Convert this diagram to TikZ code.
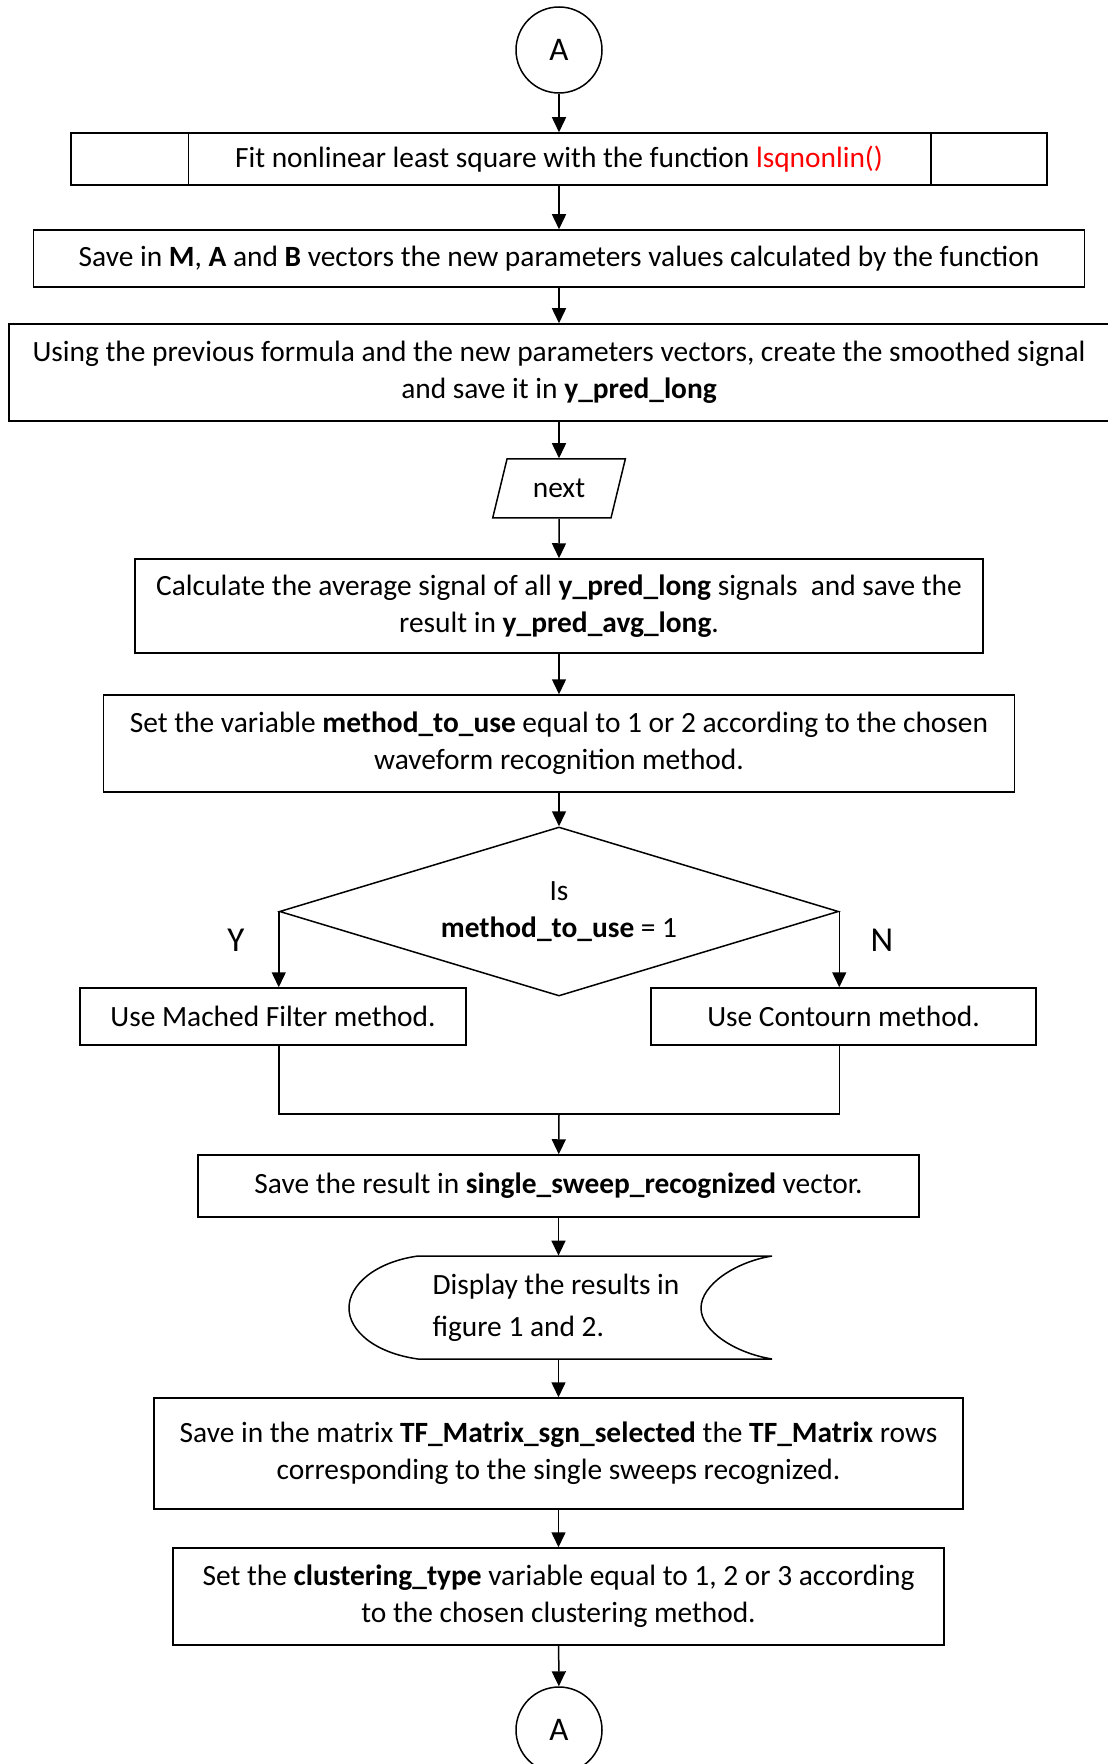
\documentclass[tikz,border=0pt]{standalone}
\usepackage{fontspec}
\setmainfont{Carlito}
\usepackage{xcolor}
\usetikzlibrary{shapes.geometric,arrows.meta}

\tikzset{
  box/.style={draw, line width=0.75pt, inner sep=2pt, align=center},
  arr/.style={-{Triangle[length=7.5pt,width=7pt]}, line width=0.75pt},
  conn/.style={draw, circle, line width=0.75pt, minimum size=43pt, inner sep=0pt, font=\fontsize{16.5}{18}\selectfont}
}

\begin{document}
\begin{tikzpicture}[x=0.5pt, y=-0.5pt, font=\fontsize{14.7}{18.5}\selectfont]
  \useasboundingbox (0,0) rectangle (1107,1764);

  % Connector at the top
  \node[conn] (topA) at (559,50) {A};

  % Process boxes
  \node[box, minimum width=488pt, minimum height=26pt] (fit) at (559,159)
    {Fit nonlinear least square with the function \textcolor{red}{lsqnonlin()}};
  \draw[line width=0.75pt] ([xshift=59pt]fit.north west) -- ([xshift=59pt]fit.south west);
  \draw[line width=0.75pt] ([xshift=-58.5pt]fit.north east) -- ([xshift=-58.5pt]fit.south east);

  \node[box, minimum width=525.5pt, minimum height=28.5pt] (savepar) at (559,258.5)
    {Save in \textbf{M}, \textbf{A} and \textbf{B} vectors the new parameters values calculated by the function};

  \node[box, minimum width=550pt, minimum height=48.5pt] (smooth) at (559,372.5)
    {Using the previous formula and the new parameters vectors, create the smoothed signal\\and save it in \textbf{y\_pred\_long}};

  \node[draw, line width=0.75pt, trapezium, trapezium left angle=69, trapezium right angle=111,
    trapezium stretches=true, minimum width=66.5pt, minimum height=29.5pt, inner sep=0pt] (next) at (559,488.5) {next};

  \node[box, minimum width=424pt, minimum height=47pt] (avg) at (559,606)
    {Calculate the average signal of all \textbf{y\_pred\_long} signals\ \ and save the\\result in \textbf{y\_pred\_avg\_long}.};

  \node[box, minimum width=455.5pt, minimum height=48.5pt] (method) at (559,743.5)
    {Set the variable \textbf{method\_to\_use} equal to 1 or 2 according to the chosen\\waveform recognition method.};

  % Decision
  \node[draw, diamond, aspect=3.31, line width=0.75pt, minimum width=279.5pt, minimum height=84.5pt, inner sep=0pt, align=center] (dec) at (559,911.5)
    {Is\\\textbf{method\_to\_use} = 1};
  \node[font=\fontsize{17.5}{18}\selectfont] (yes) at (236,940) {Y};
  \node[font=\fontsize{17.5}{18}\selectfont] (no) at (882,940) {N};

  \node[box, minimum width=193pt, minimum height=28.5pt] (useMF) at (273,1016.5) {Use Mached Filter method.};
  \node[box, minimum width=192.5pt, minimum height=28.5pt] (useCT) at (843.5,1016.5) {Use Contourn method.};
  \coordinate (join) at (559,1114);

  \node[box, minimum width=360.5pt, minimum height=31pt] (saveres) at (558.5,1186)
    {Save the result in \textbf{single\_sweep\_recognized} vector.};

  % Display
  \node[align=left, inner sep=0pt, minimum height=51.5pt, font=\fontsize{14.7}{21}\selectfont] (disp) at (556,1307.5)
    {Display the results in\\figure 1 and 2.};
  \draw[line width=0.75pt] (418,1256) -- (772,1256)
    .. controls (735,1262) and (701,1285) .. (701,1308)
    .. controls (701,1331) and (735,1353) .. (772,1359) -- (418,1359)
    .. controls (375,1353) and (349,1331) .. (349,1308)
    .. controls (349,1285) and (375,1262) .. (418,1256) -- cycle;

  \node[box, minimum width=404.5pt, minimum height=55.5pt] (tfsel) at (558.5,1453.5)
    {Save in the matrix \textbf{TF\_Matrix\_sgn\_selected} the \textbf{TF\_Matrix} rows\\corresponding to the single sweeps recognized.};

  \node[box, minimum width=385.5pt, minimum height=48.5pt] (clus) at (558.5,1596.5)
    {Set the \textbf{clustering\_type} variable equal to 1, 2 or 3 according\\to the chosen clustering method.};

  % Connector at the bottom
  \node[conn] (botA) at (559,1730) {A};

  % Arrows
  \draw[arr] (topA) -- (fit);
  \draw[arr] (fit) -- (savepar);
  \draw[arr] (savepar) -- (smooth);
  \draw[arr] (smooth) -- (next);
  \draw[arr] (next) -- (avg);
  \draw[arr] (avg) -- (method);
  \draw[arr] (method) -- (dec);
  \draw[arr] (dec.west) -- (dec.west |- useMF.north);
  \draw[arr] (dec.east) -- (dec.east |- useCT.north);
  \draw[line width=0.75pt] (dec.west |- useMF.south) |- (join) -| (dec.east |- useCT.south);
  \draw[arr] (join) -- (saveres);
  \draw[arr] (saveres) -- (saveres.south |- disp.north);
  \draw[arr] (saveres.south |- disp.south) -- (tfsel);
  \draw[arr] (tfsel) -- (clus);
  \draw[arr] (clus) -- (botA);
\end{tikzpicture}
\end{document}
